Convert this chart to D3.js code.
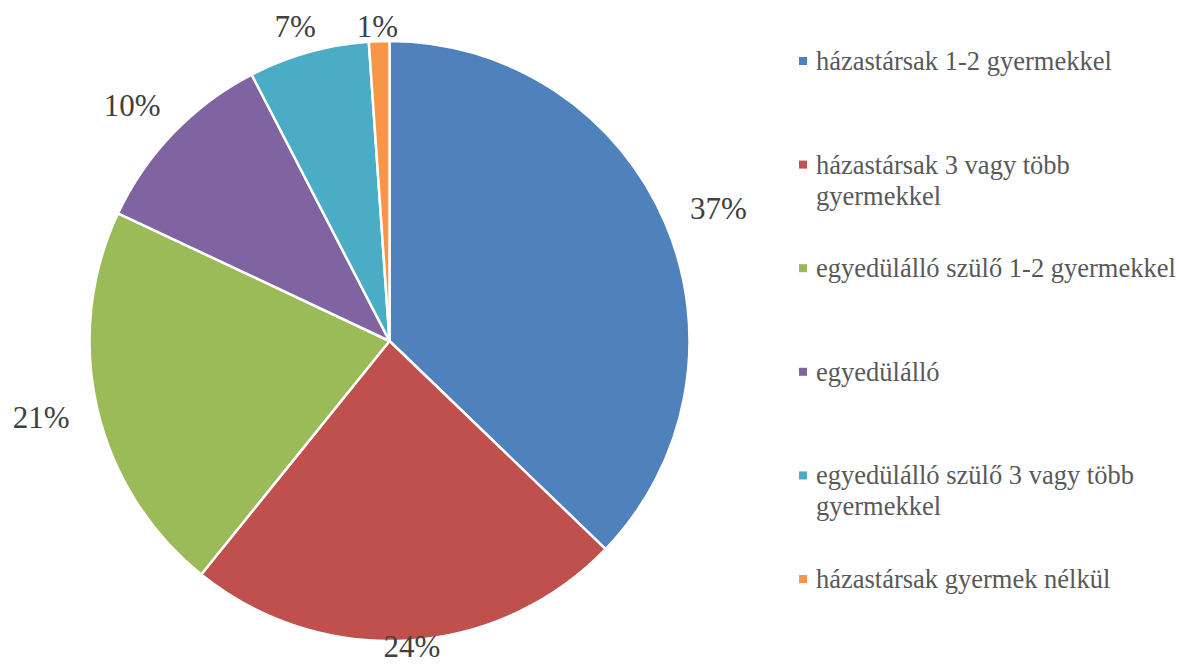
<!DOCTYPE html>
<html>
<head>
<meta charset="utf-8">
<script src="https://cdn.jsdelivr.net/npm/d3@7"></script>
<style>
  body { margin: 0; background: #fff; }
  svg { display: block; }
  svg text { font-family: 'Liberation Serif', 'Times New Roman', 'DejaVu Serif', serif; }
</style>
</head>
<body>
<div id="chart"></div>
<script>
// Slice data (clockwise from 12 o'clock)
const categories = [
  'házastársak 1-2 gyermekkel',
  'házastársak 3 vagy több gyermekkel',
  'egyedülálló szülő 1-2 gyermekkel',
  'egyedülálló',
  'egyedülálló szülő 3 vagy több gyermekkel',
  'házastársak gyermek nélkül'
];
const values = [37.2, 23.6, 21.2, 10.4, 6.5, 1.1];
const percentLabels = ['37%', '24%', '21%', '10%', '7%', '1%'];
// legend lines (wrapped as in the original)
const legendLines = [
  ['házastársak 1-2 gyermekkel'],
  ['házastársak 3 vagy több', 'gyermekkel'],
  ['egyedülálló szülő 1-2 gyermekkel'],
  ['egyedülálló'],
  ['egyedülálló szülő 3 vagy több', 'gyermekkel'],
  ['házastársak gyermek nélkül']
];
const colors = ['#4F81BD', '#C0504D', '#9BBB59', '#8064A2', '#4BACC6', '#F79646'];

const W = 1179, H = 665;
const cx = 389.5, cy = 341, radius = 300;

const svg = d3.select('#chart')
  .append('svg')
  .attr('width', W)
  .attr('height', H)
  .attr('viewBox', `0 0 ${W} ${H}`);

const data = categories.map((c, i) => ({ name: c, value: values[i], label: percentLabels[i], color: colors[i] }));

const pie = d3.pie().value(d => d.value).sort(null);
const arc = d3.arc().innerRadius(0).outerRadius(radius);
const arcs = pie(data);

const g = svg.append('g').attr('transform', `translate(${cx},${cy})`);

g.selectAll('path')
  .data(arcs)
  .join('path')
  .attr('d', arc)
  .attr('fill', d => d.data.color)
  .attr('stroke', '#fff')
  .attr('stroke-width', 2.5)
  .attr('stroke-linejoin', 'round');

// Percent labels, placed just outside the edge ("outside end"), kept inside the picture
const labelR = radius + 29;
const digitH = 21;
g.selectAll('text.pct')
  .data(arcs)
  .join('text')
  .attr('class', 'pct')
  .attr('font-size', 31)
  .attr('fill', '#404040')
  .attr('text-anchor', 'middle')
  .text(d => d.data.label)
  .each(function(d) {
    const a = (d.startAngle + d.endAngle) / 2;
    const w = this.getComputedTextLength();
    const sx = Math.sin(a), sy = -Math.cos(a);
    const x = labelR * sx + sx * w / 2;
    const midY = labelR * sy + sy * digitH / 2;
    let base = midY + digitH / 2;
    base = Math.max(37 - cy, Math.min(H - 8 - cy, base));
    d3.select(this).attr('x', x).attr('y', base);
  });

// Legend
const legend = svg.append('g').attr('transform', 'translate(799,70)');
const step = 103.6;
const item = legend.selectAll('g')
  .data(data)
  .join('g')
  .attr('transform', (d, i) => `translate(0,${i * step})`);

item.append('rect')
  .attr('x', 0)
  .attr('y', -13)
  .attr('width', 8)
  .attr('height', 8)
  .attr('fill', d => d.color);

item.append('text')
  .attr('font-size', 26.5)
  .attr('fill', '#595959')
  .selectAll('tspan')
  .data((d, i) => legendLines[i])
  .join('tspan')
  .attr('x', 17)
  .attr('dy', (d, j) => j === 0 ? 0 : 31)
  .text(d => d);
</script>
</body>
</html>
